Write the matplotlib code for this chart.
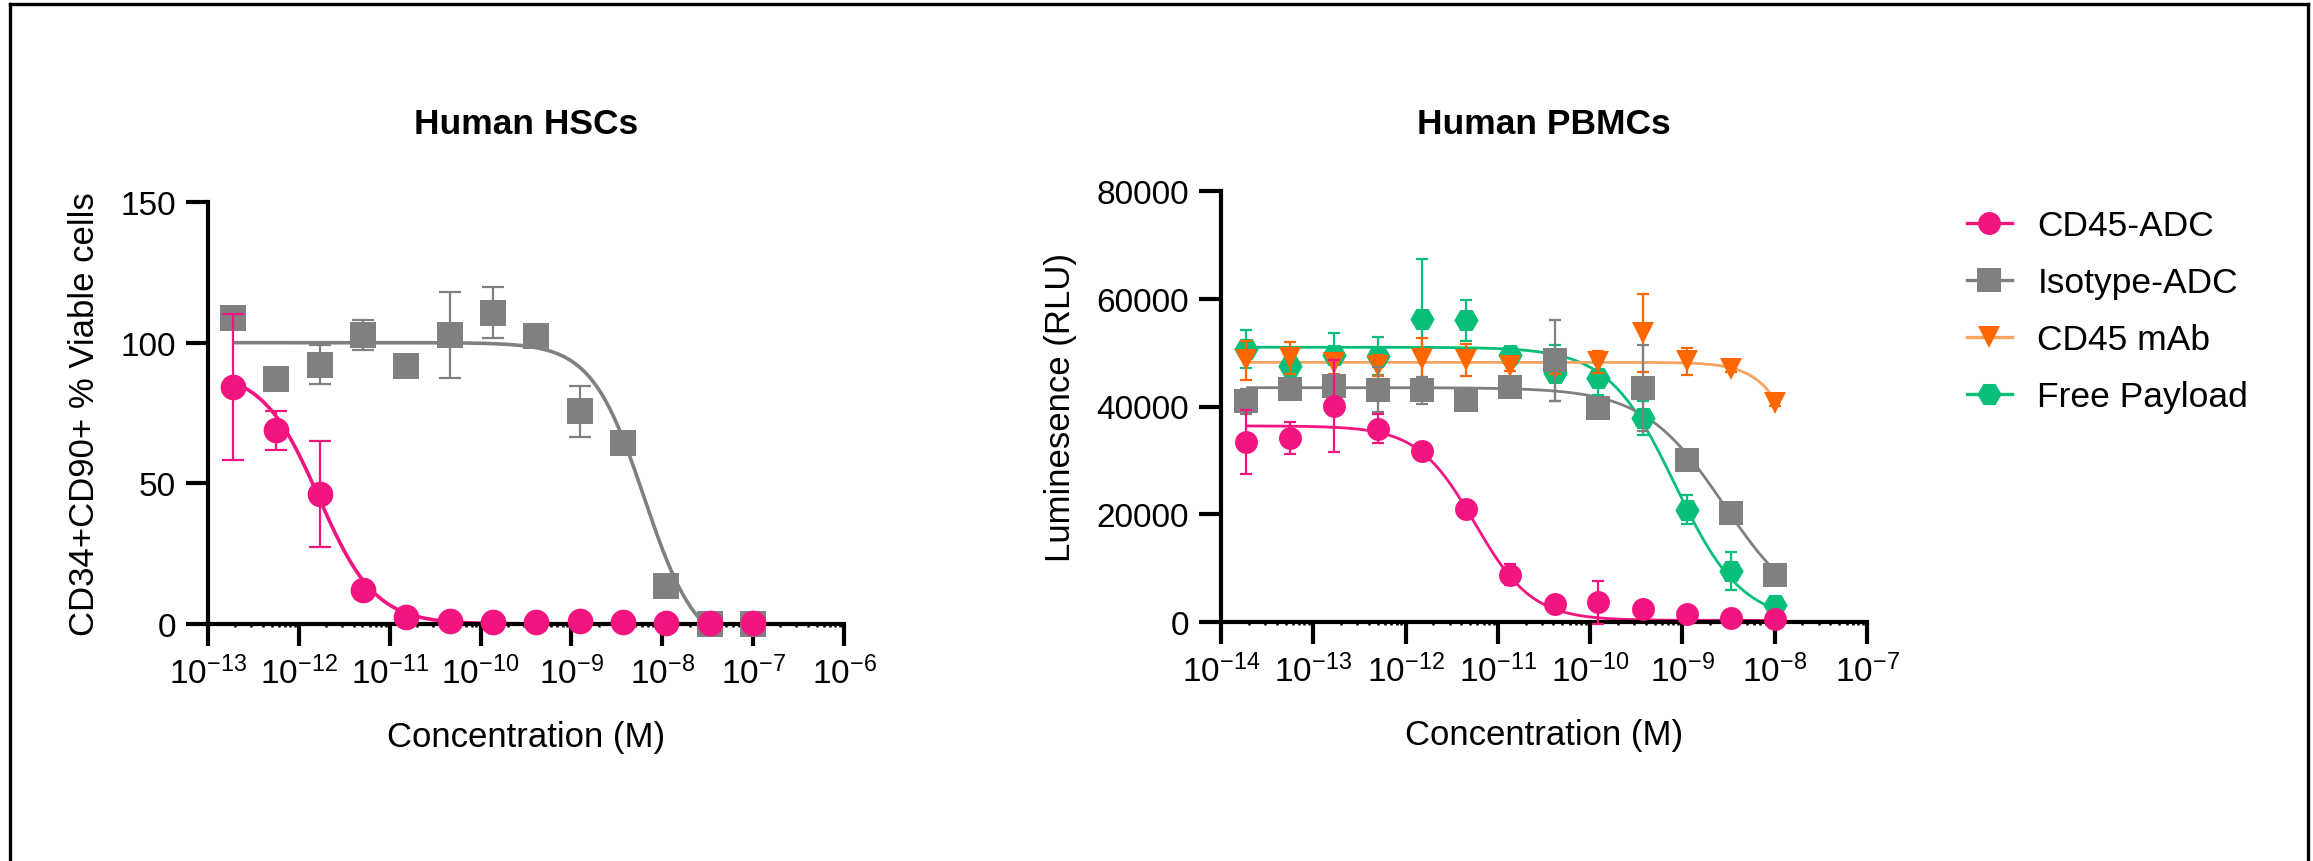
import numpy as np
import matplotlib
matplotlib.use('Agg')
import matplotlib.pyplot as plt
from matplotlib.lines import Line2D
from matplotlib.ticker import FixedLocator, LogLocator, NullFormatter

plt.rcParams['font.family'] = ['Liberation Sans', 'DejaVu Sans']
plt.rcParams['mathtext.fontset'] = 'custom'
plt.rcParams['mathtext.rm'] = 'Liberation Sans'
plt.rcParams['mathtext.it'] = 'Liberation Sans:italic'
plt.rcParams['mathtext.bf'] = 'Liberation Sans:bold'

# ---------------- data ----------------
hsc_conc = [1.88e-13, 5.65e-13, 1.69e-12, 5.08e-12, 1.52e-11, 4.57e-11, 1.37e-10,
            4.12e-10, 1.23e-9, 3.70e-9, 1.11e-8, 3.33e-8, 1.0e-7]
pbmc_conc = [1.88e-14, 5.65e-14, 1.69e-13, 5.08e-13, 1.52e-12, 4.57e-12, 1.37e-11,
             4.12e-11, 1.23e-10, 3.70e-10, 1.11e-9, 3.33e-9, 1.0e-8]

hsc_cd45_adc = [84.2, 68.8, 46.3, 12.2, 2.5, 1.0, 0.7, 0.7, 1.0, 0.7, 0.4, 0.4, 0.2]
hsc_cd45_adc_sd = [26.0, 6.8, 18.8, 1.0, 0.5, 0.3, 0.2, 0.2, 0.3, 0.2, 0.1, 0.1, 0.1]
hsc_isotype = [108.8, 87.0, 92.2, 102.6, 91.7, 102.6, 110.7, 102.3, 75.6, 64.4, 13.6, 0.0, 0.0]
hsc_isotype_sd = [2.0, 1.0, 7.0, 5.3, 1.0, 15.3, 9.2, 2.0, 9.0, 2.0, 2.0, 0.0, 0.0]

pbmc_cd45_adc = [33400, 34200, 40100, 35900, 31700, 20900, 8800, 3300, 3700, 2350, 1400, 800, 500]
pbmc_cd45_adc_sd = [5900, 3000, 8500, 2700, 1000, 1000, 2000, 500, 4000, 300, 300, 200, 200]
pbmc_isotype = [41000, 43200, 43800, 43100, 43000, 41200, 43700, 48600, 39800, 43400, 30100, 20300, 8800]
pbmc_isotype_sd = [2300, 1000, 2000, 4200, 2500, 1000, 1000, 7500, 1000, 8000, 1000, 1000, 1000]
pbmc_cd45_mab = [48600, 49000, 48000, 47600, 48800, 48600, 47500, 47000, 48300, 53600, 48400, 46900, 40600]
pbmc_cd45_mab_sd = [3600, 2900, 2000, 2000, 4000, 3000, 1000, 1000, 2000, 7200, 2500, 500, 500]
pbmc_free_payload = [50700, 47500, 49500, 49400, 56200, 56000, 49500, 46200, 45200, 37900, 20800, 9500, 3100]
pbmc_free_payload_sd = [3500, 1000, 4100, 3500, 11100, 3800, 1000, 5200, 3100, 3100, 2700, 3500, 500]

# 4PL fit parameters: top, bottom, logIC50, hill
hsc_cd45_adc_fit = [90.0, 0.0, -11.78, 1.4]
hsc_isotype_fit = [100.0, -10.0, -8.2, 1.5]
pbmc_cd45_adc_fit = [36400, 300, -11.25, 1.4]
pbmc_isotype_fit = [43500, 0, -8.55, 1.0]
pbmc_cd45_mab_fit = [48200, 0, -7.58, 1.86]
pbmc_free_payload_fit = [51000, 0, -9.08, 1.2]

series_names = ['CD45-ADC', 'Isotype-ADC', 'CD45 mAb', 'Free Payload']

hsc_xtick_exp = [-13, -12, -11, -10, -9, -8, -7, -6]
pbmc_xtick_exp = [-14, -13, -12, -11, -10, -9, -8, -7]
hsc_yticks = [0, 50, 100, 150]
pbmc_yticks = [0, 20000, 40000, 60000, 80000]

PINK = '#F2157F'
GRAY = '#808080'
ORANGE = '#FF6600'
ORANGE_LINE = '#F8A45E'
GREEN = '#08BF7A'

W, H = 2313, 862
fig = plt.figure(figsize=(W / 100, H / 100), dpi=100)


def fig_rect(x0, x1, y_top, y_bot):
    return [x0 / W, 1 - y_bot / H, (x1 - x0) / W, (y_bot - y_top) / H]


ax1 = fig.add_axes(fig_rect(208, 844, 203, 625))
ax2 = fig.add_axes(fig_rect(1221, 1867, 192, 623))


def fourpl(x, p):
    top, bottom, logic50, hill = p
    return bottom + (top - bottom) / (1 + 10 ** ((np.log10(x) - logic50) * hill))


def plot_series(ax, conc, vals, sd, fit, color, line_color, marker, ms, lw, capsize, z, label):
    x = np.array(conc)
    eb = ax.errorbar(x, vals, yerr=sd, fmt='none', ecolor=color, elinewidth=1.6,
                     capsize=capsize, capthick=1.6, zorder=z)
    for a in list(eb.lines[1]) + list(eb.lines[2]):
        a.set_clip_on(False)
    ax.plot(x, vals, linestyle='none', marker=marker, ms=ms, color=color, mec=color,
            mew=0, zorder=z + 0.5, clip_on=False)
    xs = np.logspace(np.log10(x[0]), np.log10(x[-1]), 400)
    ax.plot(xs, fourpl(xs, fit), color=line_color, lw=lw, zorder=2, solid_capstyle='butt')
    return Line2D([], [], color=line_color, lw=lw + 0.4, marker=marker, ms=ms,
                  mfc=color, mec=color, mew=0, label=label)


# Left panel
plot_series(ax1, hsc_conc, hsc_isotype, hsc_isotype_sd, hsc_isotype_fit, GRAY, GRAY,
            's', 18.5, 2.6, 8, 3, series_names[1])
plot_series(ax1, hsc_conc, hsc_cd45_adc, hsc_cd45_adc_sd, hsc_cd45_adc_fit, PINK, PINK,
            'o', 18.5, 2.6, 8, 4, series_names[0])

# Right panel (drawn bottom to top)
h4 = plot_series(ax2, pbmc_conc, pbmc_free_payload, pbmc_free_payload_sd, pbmc_free_payload_fit,
                 GREEN, GREEN, 'H', 17.5, 2.0, 4.5, 3, series_names[3])
h3 = plot_series(ax2, pbmc_conc, pbmc_cd45_mab, pbmc_cd45_mab_sd, pbmc_cd45_mab_fit,
                 ORANGE, ORANGE_LINE, 'v', 16.5, 2.0, 4.5, 4, series_names[2])
h2 = plot_series(ax2, pbmc_conc, pbmc_isotype, pbmc_isotype_sd, pbmc_isotype_fit,
                 GRAY, GRAY, 's', 17, 2.0, 4.5, 5, series_names[1])
h1 = plot_series(ax2, pbmc_conc, pbmc_cd45_adc, pbmc_cd45_adc_sd, pbmc_cd45_adc_fit,
                 PINK, PINK, 'o', 16.5, 2.0, 4.5, 6, series_names[0])


def style_axis(ax, xexp, yticks, ylim, title, ylabel, ylabelpad, top_px):
    ax.set_xscale('log')
    ax.set_xlim(10.0 ** xexp[0], 10.0 ** xexp[-1])
    ax.set_ylim(*ylim)
    ax.xaxis.set_major_locator(FixedLocator([10.0 ** e for e in xexp]))
    ax.set_xticklabels([r'$\mathregular{10^{%d}}$' % e for e in xexp])
    ax.xaxis.set_minor_locator(LogLocator(base=10, subs=np.arange(2, 10), numticks=100))
    ax.xaxis.set_minor_formatter(NullFormatter())
    ax.set_yticks(yticks)
    ax.set_yticklabels([str(v) for v in yticks])
    for s in ['top', 'right']:
        ax.spines[s].set_visible(False)
    for s in ['left', 'bottom']:
        ax.spines[s].set_linewidth(3.0)
        ax.spines[s].set_capstyle('projecting')
    ax.tick_params(axis='both', which='major', length=16, width=3.0, labelsize=24, pad=7,
                   direction='out')
    ax.tick_params(axis='x', which='minor', length=2.5, width=1.8, direction='out')
    ax.set_xlabel('Concentration (M)', fontsize=25, labelpad=21)
    ax.set_ylabel(ylabel, fontsize=25, labelpad=ylabelpad)
    pad_pt = (top_px - 134) * 0.72
    ax.set_title(title, fontsize=25.5, fontweight='bold', pad=pad_pt)
    ax.patch.set_visible(False)


style_axis(ax1, hsc_xtick_exp, hsc_yticks, (0, 150), 'Human HSCs',
           'CD34+CD90+ % Viable cells', 14, 203)
style_axis(ax2, pbmc_xtick_exp, pbmc_yticks, (0, 80000), 'Human PBMCs',
           'Luminesence (RLU)', 14, 192)

leg = fig.legend(handles=[h1, h2, h3, h4], loc='upper left',
                 bbox_to_anchor=(1967 / W, 1 - 210 / H), frameon=False, fontsize=25.5,
                 handlelength=1.27, handletextpad=0.72, labelspacing=0.68,
                 borderpad=0, borderaxespad=0, numpoints=1)

# outer frame (left, top, right)
frame_kw = dict(color='black', lw=2.4, transform=fig.transFigure, clip_on=False)
fig.add_artist(Line2D([10 / W, 10 / W], [0, 1 - 5.3 / H], **frame_kw))
fig.add_artist(Line2D([10 / W, 2308 / W], [1 - 5.3 / H, 1 - 5.3 / H], **frame_kw))
fig.add_artist(Line2D([2308 / W, 2308 / W], [1 - 5.3 / H, 0], **frame_kw))

fig.savefig('out.png', dpi=100)
